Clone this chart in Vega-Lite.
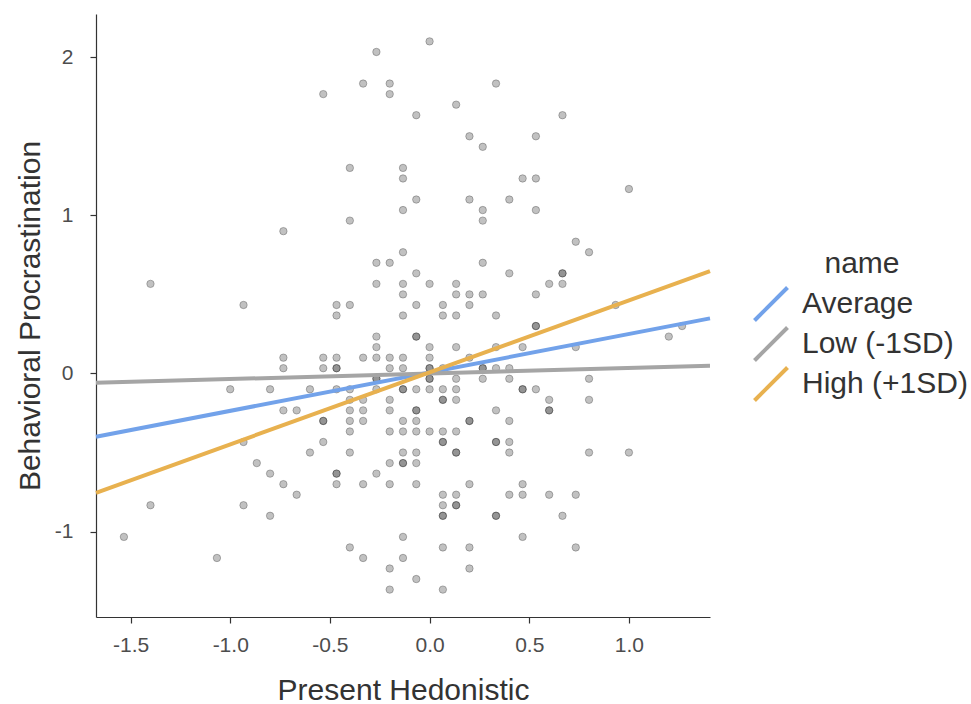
{
  "$schema": "https://vega.github.io/schema/vega-lite/v6.json",
  "width": 614,
  "height": 603,
  "autosize": {"type": "none"},
  "padding": {"left": 96, "top": 14, "right": 261, "bottom": 87},
  "background": "white",
  "config": {
    "view": {"stroke": null},
    "font": "Liberation Sans",
    "axis": {
      "grid": false,
      "domainColor": "#333333",
      "domainWidth": 1.2,
      "tickColor": "#333333",
      "tickWidth": 1.2,
      "tickSize": 6,
      "labelFont": "Liberation Sans",
      "labelFontSize": 21,
      "labelColor": "#4d4d4d",
      "titleFont": "Liberation Sans",
      "titleFontSize": 30,
      "titleFontWeight": "normal",
      "titleColor": "#333333"
    }
  },
  "datasets": {
    "pts": [
      {"x": 0, "y": 2.1},
      {"x": -0.2667, "y": 2.0333},
      {"x": -0.3333, "y": 1.8333}, {"x": -0.2, "y": 1.8333}, {"x": 0.3333, "y": 1.8333},
      {"x": -0.5333, "y": 1.7667}, {"x": -0.2, "y": 1.7667},
      {"x": 0.1333, "y": 1.7},
      {"x": -0.0667, "y": 1.6333}, {"x": 0.6667, "y": 1.6333},
      {"x": 0.2, "y": 1.5}, {"x": 0.5333, "y": 1.5},
      {"x": 0.2667, "y": 1.4333},
      {"x": -0.4, "y": 1.3}, {"x": -0.1333, "y": 1.3},
      {"x": -0.1333, "y": 1.2333}, {"x": 0.4667, "y": 1.2333}, {"x": 0.5333, "y": 1.2333},
      {"x": 1.0, "y": 1.1667},
      {"x": -0.0667, "y": 1.1}, {"x": 0.2, "y": 1.1}, {"x": 0.4, "y": 1.1},
      {"x": -0.1333, "y": 1.0333}, {"x": 0.2667, "y": 1.0333}, {"x": 0.5333, "y": 1.0333},
      {"x": -0.4, "y": 0.9667}, {"x": 0.2667, "y": 0.9667},
      {"x": -0.7333, "y": 0.9},
      {"x": 0.7333, "y": 0.8333},
      {"x": -0.1333, "y": 0.7667}, {"x": 0.8, "y": 0.7667},
      {"x": -0.2667, "y": 0.7}, {"x": -0.2, "y": 0.7}, {"x": 0.2667, "y": 0.7},
      {"x": -0.0667, "y": 0.6333}, {"x": 0.4, "y": 0.6333}, {"x": 0.6667, "y": 0.6333}, {"x": 0.6667, "y": 0.6333},
      {"x": -1.4, "y": 0.5667}, {"x": -0.2667, "y": 0.5667}, {"x": -0.1333, "y": 0.5667}, {"x": 0, "y": 0.5667}, {"x": 0.1333, "y": 0.5667}, {"x": 0.6, "y": 0.5667}, {"x": 0.6667, "y": 0.5667},
      {"x": -0.1333, "y": 0.5}, {"x": 0.1333, "y": 0.5}, {"x": 0.2, "y": 0.5}, {"x": 0.2667, "y": 0.5}, {"x": 0.5333, "y": 0.5},
      {"x": -0.9333, "y": 0.4333}, {"x": -0.4667, "y": 0.4333}, {"x": -0.4, "y": 0.4333}, {"x": -0.0667, "y": 0.4333}, {"x": 0.0667, "y": 0.4333}, {"x": 0.2, "y": 0.4333}, {"x": 0.9333, "y": 0.4333},
      {"x": -0.4667, "y": 0.3667}, {"x": -0.1333, "y": 0.3667}, {"x": 0.0667, "y": 0.3667}, {"x": 0.1333, "y": 0.3667}, {"x": 0.3333, "y": 0.3667},
      {"x": 0.5333, "y": 0.3}, {"x": 0.5333, "y": 0.3}, {"x": 1.2667, "y": 0.3},
      {"x": -0.2667, "y": 0.2333}, {"x": -0.0667, "y": 0.2333}, {"x": -0.0667, "y": 0.2333}, {"x": 1.2, "y": 0.2333},
      {"x": -0.2667, "y": 0.1667}, {"x": 0, "y": 0.1667}, {"x": 0.1333, "y": 0.1667}, {"x": 0.3333, "y": 0.1667}, {"x": 0.4667, "y": 0.1667}, {"x": 0.7333, "y": 0.1667},
      {"x": -0.7333, "y": 0.1}, {"x": -0.5333, "y": 0.1}, {"x": -0.4667, "y": 0.1}, {"x": -0.3333, "y": 0.1}, {"x": -0.2667, "y": 0.1}, {"x": -0.2, "y": 0.1}, {"x": -0.1333, "y": 0.1}, {"x": 0, "y": 0.1}, {"x": 0.2, "y": 0.1},
      {"x": -0.7333, "y": 0.0333}, {"x": -0.5333, "y": 0.0333}, {"x": -0.4667, "y": 0.0333}, {"x": -0.4667, "y": 0.0333}, {"x": -0.2, "y": 0.0333}, {"x": -0.1333, "y": 0.0333}, {"x": 0, "y": 0.0333}, {"x": 0, "y": 0.0333}, {"x": 0.0667, "y": 0.0333}, {"x": 0.2667, "y": 0.0333}, {"x": 0.2667, "y": 0.0333}, {"x": 0.3333, "y": 0.0333}, {"x": 0.4, "y": 0.0333},
      {"x": -0.2667, "y": -0.0333}, {"x": -0.2667, "y": -0.0333}, {"x": 0, "y": -0.0333}, {"x": 0, "y": -0.0333}, {"x": 0.1333, "y": -0.0333}, {"x": 0.2667, "y": -0.0333}, {"x": 0.4, "y": -0.0333}, {"x": 0.8, "y": -0.0333},
      {"x": -1.0, "y": -0.1}, {"x": -0.8, "y": -0.1}, {"x": -0.6, "y": -0.1}, {"x": -0.4667, "y": -0.1}, {"x": -0.4, "y": -0.1}, {"x": -0.2667, "y": -0.1}, {"x": -0.1333, "y": -0.1}, {"x": -0.1333, "y": -0.1}, {"x": -0.0667, "y": -0.1}, {"x": 0, "y": -0.1}, {"x": 0.0667, "y": -0.1}, {"x": 0.1333, "y": -0.1}, {"x": 0.4667, "y": -0.1}, {"x": 0.4667, "y": -0.1}, {"x": 0.5333, "y": -0.1},
      {"x": -0.4, "y": -0.1667}, {"x": -0.3333, "y": -0.1667}, {"x": -0.2, "y": -0.1667}, {"x": 0.0667, "y": -0.1667}, {"x": 0.0667, "y": -0.1667}, {"x": 0.1333, "y": -0.1667}, {"x": 0.6, "y": -0.1667}, {"x": 0.8, "y": -0.1667},
      {"x": -0.7333, "y": -0.2333}, {"x": -0.6667, "y": -0.2333}, {"x": -0.4, "y": -0.2333}, {"x": -0.3333, "y": -0.2333}, {"x": -0.2, "y": -0.2333}, {"x": -0.0667, "y": -0.2333}, {"x": -0.0667, "y": -0.2333}, {"x": 0.3333, "y": -0.2333}, {"x": 0.6, "y": -0.2333}, {"x": 0.6, "y": -0.2333},
      {"x": -0.5333, "y": -0.3}, {"x": -0.5333, "y": -0.3}, {"x": -0.4, "y": -0.3}, {"x": -0.3333, "y": -0.3}, {"x": -0.1333, "y": -0.3}, {"x": -0.0667, "y": -0.3}, {"x": 0.2, "y": -0.3}, {"x": 0.2, "y": -0.3}, {"x": 0.4, "y": -0.3},
      {"x": -0.4, "y": -0.3667}, {"x": -0.2, "y": -0.3667}, {"x": -0.1333, "y": -0.3667}, {"x": -0.0667, "y": -0.3667}, {"x": 0, "y": -0.3667}, {"x": 0.0667, "y": -0.3667}, {"x": 0.1333, "y": -0.3667},
      {"x": -0.9333, "y": -0.4333}, {"x": -0.5333, "y": -0.4333}, {"x": 0.0667, "y": -0.4333}, {"x": 0.0667, "y": -0.4333}, {"x": 0.3333, "y": -0.4333}, {"x": 0.3333, "y": -0.4333}, {"x": 0.4, "y": -0.4333},
      {"x": -0.6, "y": -0.5}, {"x": -0.4, "y": -0.5}, {"x": -0.1333, "y": -0.5}, {"x": -0.0667, "y": -0.5}, {"x": 0.1333, "y": -0.5}, {"x": 0.1333, "y": -0.5}, {"x": 0.4, "y": -0.5}, {"x": 0.8, "y": -0.5}, {"x": 1.0, "y": -0.5},
      {"x": -0.8667, "y": -0.5667}, {"x": -0.2, "y": -0.5667}, {"x": -0.1333, "y": -0.5667}, {"x": -0.1333, "y": -0.5667}, {"x": -0.0667, "y": -0.5667},
      {"x": -0.8, "y": -0.6333}, {"x": -0.4667, "y": -0.6333}, {"x": -0.4667, "y": -0.6333}, {"x": -0.2667, "y": -0.6333},
      {"x": -0.7333, "y": -0.7}, {"x": -0.4667, "y": -0.7}, {"x": -0.3333, "y": -0.7}, {"x": -0.2, "y": -0.7}, {"x": -0.0667, "y": -0.7}, {"x": 0.2, "y": -0.7}, {"x": 0.4667, "y": -0.7},
      {"x": -0.6667, "y": -0.7667}, {"x": 0.0667, "y": -0.7667}, {"x": 0.1333, "y": -0.7667}, {"x": 0.4, "y": -0.7667}, {"x": 0.4667, "y": -0.7667}, {"x": 0.6, "y": -0.7667}, {"x": 0.7333, "y": -0.7667},
      {"x": -1.4, "y": -0.8333}, {"x": -0.9333, "y": -0.8333}, {"x": 0.0667, "y": -0.8333}, {"x": 0.1333, "y": -0.8333}, {"x": 0.1333, "y": -0.8333},
      {"x": -0.8, "y": -0.9}, {"x": 0.0667, "y": -0.9}, {"x": 0.0667, "y": -0.9}, {"x": 0.3333, "y": -0.9}, {"x": 0.3333, "y": -0.9}, {"x": 0.6667, "y": -0.9},
      {"x": -1.5333, "y": -1.0333}, {"x": -0.1333, "y": -1.0333}, {"x": 0.4667, "y": -1.0333},
      {"x": -0.4, "y": -1.1}, {"x": 0.0667, "y": -1.1}, {"x": 0.2, "y": -1.1}, {"x": 0.7333, "y": -1.1},
      {"x": -1.0667, "y": -1.1667}, {"x": -0.3333, "y": -1.1667}, {"x": -0.1333, "y": -1.1667},
      {"x": -0.2, "y": -1.2333}, {"x": 0.2, "y": -1.2333},
      {"x": -0.0667, "y": -1.3},
      {"x": -0.2, "y": -1.3667}, {"x": 0.0667, "y": -1.3667}
    ],
    "lines": [
      {"name": "Average", "x": -1.6733, "y": -0.400},
      {"name": "Average", "x": 1.4067, "y": 0.3485},
      {"name": "Low (-1SD)", "x": -1.6733, "y": -0.0588},
      {"name": "Low (-1SD)", "x": 1.4067, "y": 0.0487},
      {"name": "High (+1SD)", "x": -1.6733, "y": -0.7546},
      {"name": "High (+1SD)", "x": 1.4067, "y": 0.6477}
    ]
  },
  "layer": [
    {
      "data": {"name": "pts"},
      "mark": {"type": "circle", "color": "#222222", "fillOpacity": 0.28, "stroke": "#222222", "strokeOpacity": 0.3, "strokeWidth": 1, "size": 55},
      "encoding": {
        "x": {
          "field": "x", "type": "quantitative",
          "scale": {"domain": [-1.6733, 1.4067], "nice": false, "zero": false},
          "axis": {"values": [-1.5, -1, -0.5, 0, 0.5, 1], "format": ".1f", "labelExpr": "replace(datum.label, '\u2212', '-')", "labelPadding": 11, "title": "Present Hedonistic", "titleY": 73, "titleBaseline": "middle"}
        },
        "y": {
          "field": "y", "type": "quantitative",
          "scale": {"domain": [-1.54, 2.2733], "nice": false, "zero": false},
          "axis": {"values": [-1, 0, 1, 2], "format": "d", "labelExpr": "replace(datum.label, '\u2212', '-')", "labelPadding": 17, "title": "Behavioral Procrastination", "titleX": -66, "titleY": 301.5, "titleBaseline": "middle", "titleAlign": "center"}
        }
      }
    },
    {
      "data": {"name": "lines"},
      "mark": {"type": "line", "strokeWidth": 4},
      "encoding": {
        "x": {"field": "x", "type": "quantitative", "scale": {"domain": [-1.6733, 1.4067], "nice": false, "zero": false}},
        "y": {"field": "y", "type": "quantitative", "scale": {"domain": [-1.54, 2.2733], "nice": false, "zero": false}},
        "color": {
          "field": "name", "type": "nominal",
          "scale": {"domain": ["Average", "Low (-1SD)", "High (+1SD)"], "range": ["#72A2EA", "#A5A5A5", "#E8B14F"]},
          "legend": {
            "orient": "none", "legendX": 660, "legendY": 235,
            "title": "name", "titleFontSize": 30, "titleFontWeight": "normal", "titleColor": "#333333", "titleFont": "Liberation Sans",
            "titleAnchor": "middle", "titlePadding": 10,
            "labelFontSize": 30, "labelColor": "#333333", "labelFont": "Liberation Sans", "labelOffset": 16, "labelLimit": 0,
            "symbolType": "M-2,2L2,-2", "symbolSize": 272.25, "symbolStrokeWidth": 4, "rowPadding": -16.5
          }
        }
      }
    }
  ]
}
